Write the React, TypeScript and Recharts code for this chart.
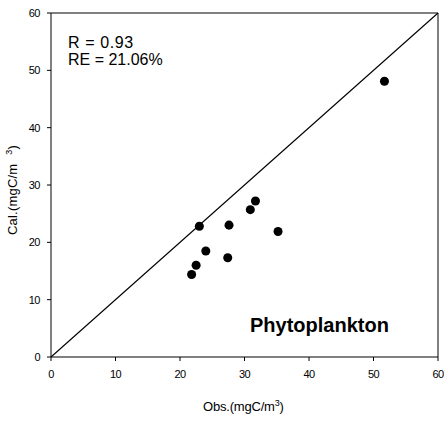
import { ScatterChart, Scatter, XAxis, YAxis, ReferenceLine } from 'recharts';

// observed vs. calculated phytoplankton carbon (mgC/m3)
const obs = [51.7, 23.0, 27.6, 30.9, 31.7, 35.2, 24.0, 27.4, 22.5, 21.8];
const cal = [48.1, 22.8, 23.0, 25.7, 27.2, 21.9, 18.5, 17.3, 16.0, 14.4];
const axisTicks = [0, 10, 20, 30, 40, 50, 60];
const statLines = ['R = 0.93', 'RE = 21.06%'];
const panelName = 'Phytoplankton';
const xTitle = 'Obs.(mgC/m';
const yTitle = 'Cal.(mgC/m';

const FONT = '"Liberation Sans", Arial, sans-serif';

export default function App() {
  const points = obs.map((x, i) => ({ x, y: cal[i] }));

  return (
    <div style={{ position: 'absolute', left: 0, top: 0, width: 444, height: 422, background: '#fff', fontFamily: FONT }}>
      <ScatterChart width={444} height={422} margin={{ top: 13, right: 6, left: 0, bottom: 0 }}>
        <XAxis
          type="number"
          dataKey="x"
          domain={[0, 60]}
          ticks={axisTicks}
          height={65}
          stroke="#000"
          tickSize={4}
          tickMargin={9}
          tick={{ fill: '#000', fontSize: 11, fontFamily: FONT, letterSpacing: -0.5 }}
        />
        <YAxis
          type="number"
          dataKey="y"
          domain={[0, 60]}
          ticks={axisTicks}
          width={51}
          stroke="#000"
          tickSize={4}
          tickMargin={7}
          tick={{ fill: '#000', fontSize: 11, fontFamily: FONT, letterSpacing: -0.5 }}
        />
        <ReferenceLine y={60} stroke="#000" strokeWidth={1} />
        <ReferenceLine x={60} stroke="#000" strokeWidth={1} />
        <ReferenceLine segment={[{ x: 0, y: 0 }, { x: 60, y: 60 }]} stroke="#000" strokeWidth={1.2} />
        <Scatter data={points} fill="#000" shape="circle" isAnimationActive={false} />
      </ScatterChart>
      <svg width={444} height={422} style={{ position: 'absolute', left: 0, top: 0, pointerEvents: 'none' }}>
        <text x={68} y={48} fontSize={16} fontFamily={FONT} letterSpacing={0.6}>{statLines[0]}</text>
        <text x={68} y={65} fontSize={16} fontFamily={FONT} letterSpacing={0}>{statLines[1]}</text>
        <text x={250} y={332} fontSize={20} fontWeight="bold" fontFamily={FONT} letterSpacing={0}>{panelName}</text>
        <text x={203} y={411} fontSize={13} fontFamily={FONT} letterSpacing={-0.2}>
          {xTitle}
          <tspan fontSize={9} dy={-5}>3</tspan>
          <tspan dy={5}>)</tspan>
        </text>
        <text transform="translate(17,235) rotate(-90)" fontSize={13} fontFamily={FONT} letterSpacing={0.2}>
          {yTitle}
          <tspan fontSize={9} dx={9} dy={-5}>3</tspan>
          <tspan dy={5}>)</tspan>
        </text>
      </svg>
    </div>
  );
}
